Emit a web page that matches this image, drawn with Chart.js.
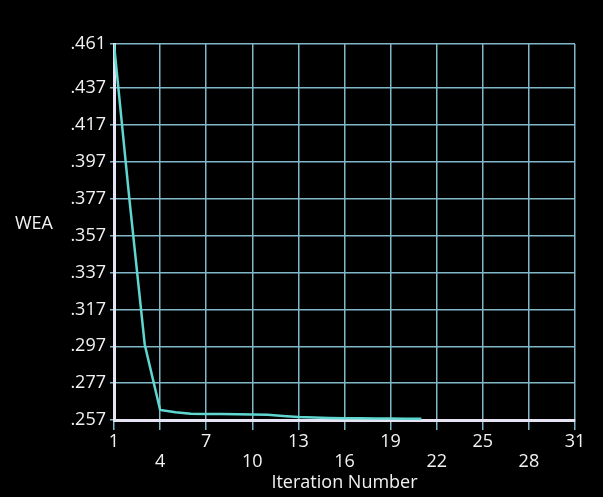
<!DOCTYPE html>
<html>
<head>
<meta charset="utf-8">
<script src="https://cdn.jsdelivr.net/npm/chart.js@4"></script>
<style>
  html, body { margin: 0; padding: 0; background: #000; }
  #myChart { display: block; background: #000; }
</style>
</head>
<body>
<canvas id="myChart" width="603" height="497"></canvas>
<script>
//Data_
const iterations = [1, 2, 3, 4, 5, 6, 7, 8, 9, 10, 11, 12, 13, 14, 15, 16, 17, 18, 19, 20, 21];
const wea = [0.461, 0.377, 0.298, 0.2625, 0.2612, 0.2604, 0.2603, 0.2602, 0.2601, 0.2600, 0.2599, 0.2592, 0.2586, 0.2583, 0.2581, 0.2580, 0.2579, 0.2578, 0.2578, 0.2577, 0.2577];
const yTicks = [0.257, 0.277, 0.297, 0.317, 0.337, 0.357, 0.377, 0.397, 0.417, 0.437, 0.461];
const xTopRow = [1, 7, 13, 19, 25, 31];
const xBottomRow = [4, 10, 16, 22, 28];
const yTitle = 'WEA';
const xTitle = 'Iteration Number';

const gridColor = '#80b8c9';
const axisColor = '#e6e4f4';
const lineColor = '#5fd6d0';
const textColor = '#f2f2f2';
const font = { family: "'Open Sans', sans-serif", size: 18, lineHeight: 1.1 };

//Plugin_ for the horizontal y title
const yTitlePlugin = {
    id: 'yTitle',
    afterDraw(chart) {
        const ctx = chart.ctx;
        ctx.save();
        ctx.fillStyle = textColor;
        ctx.font = `18px ${font.family}`;
        ctx.textAlign = 'left';
        ctx.textBaseline = 'middle';
        ctx.fillText(yTitle, 15, 224);
        ctx.restore();
    }
};

const config = {
    type: 'line',
    data: {
        labels: iterations,
        datasets: [{
            data: iterations.map((it, i) => ({ x: it, y: wea[i] })),
            borderColor: lineColor,
            borderWidth: 2.5,
            pointRadius: 0,
            tension: 0,
            fill: false
        }]
    },
    options: {
        responsive: false,
        animation: false,
        layout: { padding: { top: 44, right: 28, left: 0, bottom: 0 } },
        plugins: { legend: { display: false }, tooltip: { enabled: false } },
        scales: {
            x: {
                type: 'linear',
                min: 1,
                max: 31,
                afterFit: (scale) => { scale.height = 77; },
                afterBuildTicks: (scale) => {
                    scale.ticks = xTopRow.concat(xBottomRow).sort((a, b) => a - b).map(v => ({ value: v }));
                },
                ticks: {
                    color: textColor,
                    font: font,
                    padding: 2,
                    maxRotation: 0,
                    autoSkip: false,
                    callback: (value) => xTopRow.includes(value) ? [String(value), ''] : ['', String(value)]
                },
                grid: { color: gridColor, lineWidth: 1.5, tickLength: 10 },
                border: { color: axisColor, width: 3 },
                title: {
                    display: true,
                    text: xTitle,
                    color: textColor,
                    font: { family: font.family, size: 18 },
                    padding: { top: 0, bottom: 3 }
                }
            },
            y: {
                type: 'linear',
                min: 0.257,
                max: 0.461,
                afterFit: (scale) => { scale.width = 114; },
                afterBuildTicks: (scale) => {
                    scale.ticks = yTicks.map(v => ({ value: v }));
                },
                ticks: {
                    color: textColor,
                    font: font,
                    padding: 4,
                    callback: (value) => value.toFixed(3).slice(1)
                },
                grid: { color: gridColor, lineWidth: 1.5, tickLength: 4 },
                border: { color: axisColor, width: 3 }
            }
        }
    },
    plugins: [yTitlePlugin]
};

//FunctionCall_
const chart = new Chart(document.getElementById('myChart'), config);
</script>
</body>
</html>
